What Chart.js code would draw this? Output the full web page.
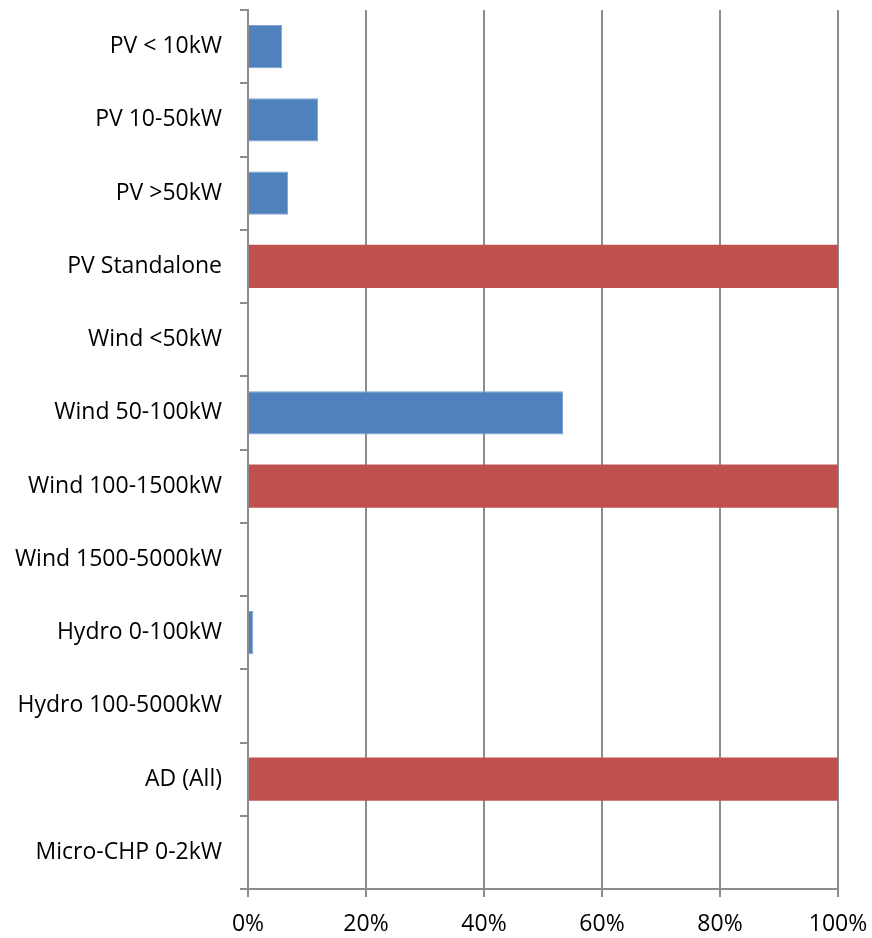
<!DOCTYPE html>
<html>
<head>
<meta charset="utf-8">
<script src="https://cdn.jsdelivr.net/npm/chart.js@4/dist/chart.umd.min.js"></script>
<style>
    html, body { margin: 0; padding: 0; background: #fff; }
    #box { width: 872px; height: 938px; }
</style>
</head>
<body>
<div id="box"><canvas id="barChart"></canvas></div>
<script>
// categorias (eixo vertical)
var categorias = [
    'PV < 10kW', 'PV 10-50kW', 'PV >50kW', 'PV Standalone',
    'Wind <50kW', 'Wind 50-100kW', 'Wind 100-1500kW', 'Wind 1500-5000kW',
    'Hydro 0-100kW', 'Hydro 100-5000kW', 'AD (All)', 'Micro-CHP 0-2kW'
];

// serie azul (parcial) e serie vermelha (100%)
var valoresParciais = [0.058, 0.119, 0.068, null, null, 0.534, null, null, 0.009, null, null, null];
var valoresTotais   = [null, null, null, 1.0, null, null, 1.0, null, null, null, 1.0, null];

// rotulos do eixo x
var ticksX = [0, 0.2, 0.4, 0.6, 0.8, 1.0];

document.addEventListener("DOMContentLoaded", function() {
    var ctx = document.getElementById('barChart').getContext('2d');
    var fonte = { family: "'Open Sans', sans-serif", size: 23 };
    var cinza = '#8c8c8c';

    var data = {
        labels: categorias,
        datasets: [{
            label: 'Parcial',
            data: valoresParciais,
            backgroundColor: '#4F81BD',
            borderColor: '#7ea3d1',
            borderWidth: 1,
            categoryPercentage: 1,
            barPercentage: 0.59
        }, {
            label: 'Total',
            data: valoresTotais,
            backgroundColor: '#C0504D',
            categoryPercentage: 1,
            barPercentage: 0.59
        }]
    };

    var options = {
        indexAxis: 'y',
        responsive: true,
        maintainAspectRatio: false,
        animation: false,
        layout: { padding: { top: 10, right: 34, left: 0, bottom: 0 } },
        plugins: {
            legend: { display: false },
            tooltip: { enabled: false }
        },
        scales: {
            x: {
                min: 0,
                max: 1,
                stacked: true,
                afterBuildTicks: function(scale) {
                    scale.ticks = ticksX.map(function(v) { return { value: v }; });
                },
                afterFit: function(scale) {
                    scale.height = 49;
                    scale.paddingLeft = 0;
                    scale.paddingRight = 0;
                },
                grid: { color: cinza, lineWidth: 2, tickLength: 8 },
                border: { color: cinza, width: 2 },
                ticks: {
                    color: '#000',
                    font: fonte,
                    padding: 14,
                    maxRotation: 0,
                    callback: function(v) { return Math.round(v * 100) + '%'; }
                }
            },
            y: {
                stacked: true,
                afterFit: function(scale) {
                    scale.width = 248;
                    scale.paddingTop = 0;
                    scale.paddingBottom = 0;
                },
                grid: { drawOnChartArea: false, color: cinza, lineWidth: 2, tickLength: 8, offset: true },
                border: { color: cinza, width: 2 },
                ticks: { color: '#000', font: fonte, padding: 18, autoSkip: false }
            }
        }
    };

    var barChart = new Chart(ctx, {
        type: 'bar',
        data: data,
        options: options
    });
});
</script>
</body>
</html>
